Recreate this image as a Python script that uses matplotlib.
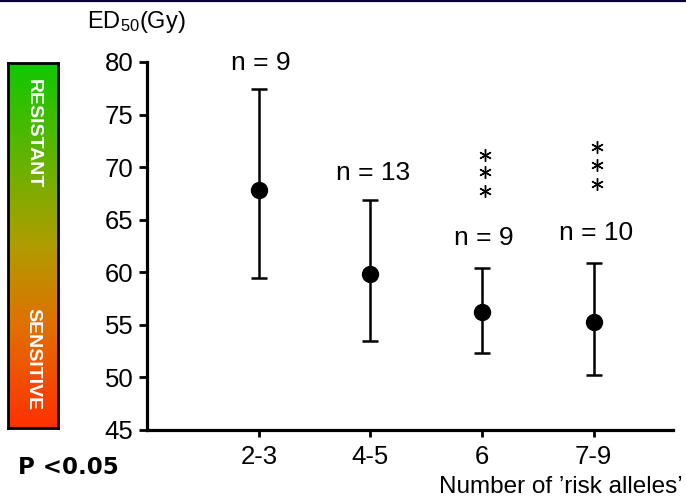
import numpy as np
import matplotlib
matplotlib.use('Agg')
from matplotlib import pyplot as plt
from matplotlib.colors import LinearSegmentedColormap

plt.rcParams['font.family'] = ['Liberation Sans', 'DejaVu Sans']
plt.rcParams['mathtext.default'] = 'regular'

groups = ['2-3', '4-5', '6', '7-9']
means = [67.8, 59.8, 56.2, 55.3]
upper = [77.4, 66.9, 60.4, 60.9]
lower = [59.5, 53.5, 52.3, 50.2]
n_labels = ['n = 9', 'n = 13', 'n = 9', 'n = 10']
n_label_y = [79.9, 69.4, 63.3, 63.7]
star_y = {'6': [71.2, 69.5, 67.7], '7-9': [71.9, 70.2, 68.4]}

fig = plt.figure(figsize=(6.86, 4.99), dpi=100)

# thin navy line at top
fig.add_artist(plt.Line2D([0, 1], [0.998, 0.998], color='#0a0035', lw=1.6))

ax = fig.add_axes([0.2149, 0.1383, 0.9806 - 0.2149, 0.8758 - 0.1383])
x = np.arange(1, len(groups) + 1)
yerr = [np.array(means) - np.array(lower), np.array(upper) - np.array(means)]
ax.errorbar(x, means, yerr=yerr, fmt='o', color='black', ms=11.5,
            elinewidth=1.8, capsize=6, capthick=1.8)

for xi, lab, ly in zip(x, n_labels, n_label_y):
    ax.text(xi + 0.02, ly, lab, ha='center', va='center', fontsize=19, clip_on=False)

for g, ys in star_y.items():
    xi = groups.index(g) + 1
    ax.plot([xi + 0.03] * len(ys), ys, ls='none', marker=(6, 2, 0),
            ms=9, mew=1.0, color='black')

ax.set_xlim(0, 4.71)
ax.set_ylim(45, 80)
ax.set_yticks(range(45, 81, 5))
ax.set_xticks(x)
ax.set_xticklabels(groups)
ax.spines['top'].set_visible(False)
ax.spines['right'].set_visible(False)
ax.spines['left'].set_linewidth(2.3)
ax.spines['bottom'].set_linewidth(2.3)
ax.tick_params(axis='y', direction='out', length=6, width=2, labelsize=18.5, pad=4)
ax.tick_params(axis='x', direction='out', length=5, width=2, labelsize=18.5, pad=6)

# colour bar on the left
cax = fig.add_axes([8 / 686, 1 - 428 / 499, 50 / 686, (428 - 63) / 499])
cmap = LinearSegmentedColormap.from_list('rs', [
    (0.0, '#10c800'), (0.3, '#70b000'), (0.5, '#b09c00'),
    (0.72, '#e07000'), (1.0, '#ff3000')])
grad = np.linspace(0, 1, 256).reshape(-1, 1)
cax.imshow(grad, aspect='auto', cmap=cmap, extent=[0, 1, 1, 0])
cax.set_xticks([])
cax.set_yticks([])
for s in cax.spines.values():
    s.set_linewidth(2)
cax.text(0.5, 0.955, 'RESISTANT', rotation=-90, ha='center', va='top',
         color='white', fontweight='bold', fontsize=14, transform=cax.transAxes)
cax.text(0.5, 0.33, 'SENSITIVE', rotation=-90, ha='center', va='top',
         color='white', fontweight='bold', fontsize=14, transform=cax.transAxes)

fig.text(87 / 686, 1 - 22 / 499, 'ED$_{50}$(Gy)', fontsize=17, va='center', ha='left')
fig.text(18 / 686, 1 - 468 / 499, 'P <0.05', fontsize=16.5, fontweight='bold',
         family='DejaVu Sans', va='center', ha='left')
fig.text(683 / 686, 1 - 487 / 499, "Number of \u2019risk alleles\u2019", fontsize=17.5,
         va='center', ha='right')

fig.savefig('out.png', dpi=100)
